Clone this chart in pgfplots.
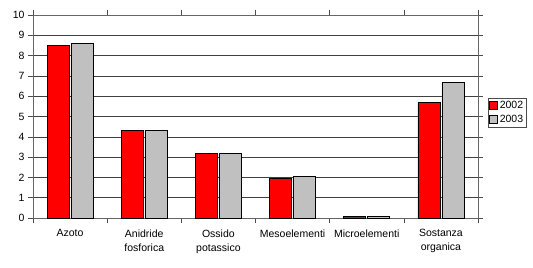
\documentclass[border=0pt]{standalone}
\usepackage{pgfplots}
\pgfplotsset{compat=1.18}
\usepackage{fontspec}
\setmainfont{Liberation Sans}
\definecolor{barred}{RGB}{255,0,0}
\definecolor{bargray}{RGB}{192,192,192}
\begin{document}
\begin{tikzpicture}
\useasboundingbox (-33bp,-50bp) rectangle (500bp,218bp);
\begin{axis}[
  scale only axis, width=445bp, height=203bp,
  xmin=-0.5, xmax=5.5, ymin=0, ymax=10,
  ybar, bar width=22bp,
  xtick={0,...,5},
  xticklabels={Azoto,{Anidride\\fosforica},{Ossido\\potassico},Mesoelementi,Microelementi,{Sostanza\\organica}},
  xticklabel style={align=center, font=\fontsize{10.5bp}{14bp}\selectfont, yshift=-3bp},
  minor xtick={-0.5,0.5,...,5.5},
  ytick={0,...,10},
  yticklabel style={font=\fontsize{10.5bp}{13bp}\selectfont},
  /pgf/number format/assume math mode=true,
  tick align=outside,
  major tick length=5bp, minor tick length=5bp,
  x tick style={draw=none},
  minor x tick style={draw=black!70, line width=0.6pt},
  y tick style={draw=black!70, line width=0.6pt},
  axis line style={draw=black!60, line width=0.7pt},
  ymajorgrids, grid style={draw=black!75, line width=0.6pt},
  legend style={at={(1.0225,0.591)}, anchor=north west, draw=black!70,
    font=\fontsize{10.5bp}{13bp}\selectfont, inner sep=1bp, row sep=1bp,
    cells={anchor=west}},
  legend image code/.code={\draw[#1,draw=black,line width=0.6pt] (0bp,-4bp) rectangle (8bp,4bp);},
  every axis plot/.append style={draw=black, line width=0.8pt},
]
\addplot[fill=barred] coordinates {(0,8.5) (1,4.3) (2,3.2) (3,1.95) (4,0.08) (5,5.67)};
\addplot[fill=bargray] coordinates {(0,8.6) (1,4.3) (2,3.2) (3,2.06) (4,0.08) (5,6.68)};
\legend{2002,2003}
\end{axis}
\end{tikzpicture}
\end{document}
